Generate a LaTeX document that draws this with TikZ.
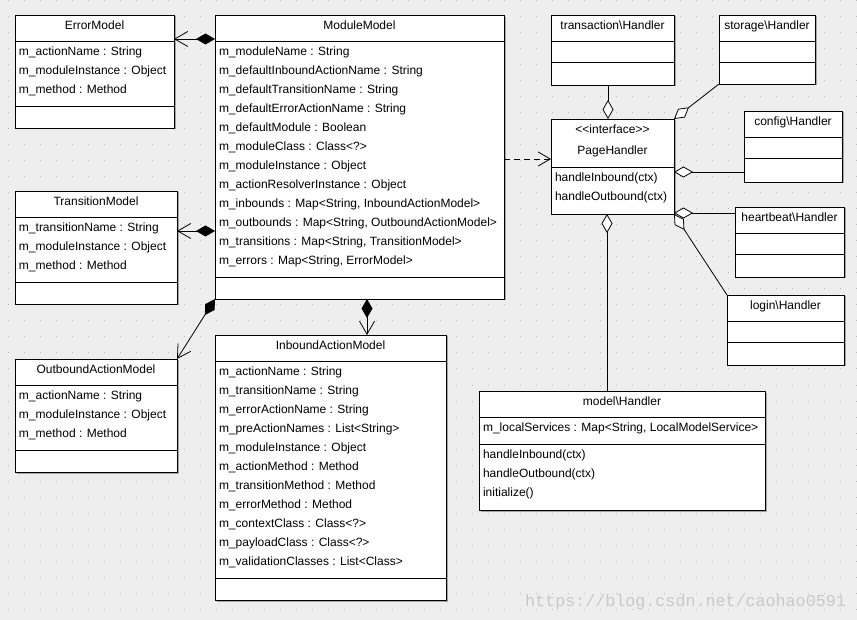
\documentclass[tikz,border=0pt]{standalone}
\usepackage{fontspec}
\setmainfont{Liberation Sans}
\newfontfamily\wmfont{Liberation Mono}
\usetikzlibrary{arrows.meta,shadows}
\definecolor{bgc}{RGB}{238,238,238}
\definecolor{dotc}{RGB}{185,185,185}
\definecolor{wmc}{RGB}{200,200,200}
\tikzset{
  umlbox/.style={draw=black, line width=0.8pt, fill=white, inner sep=0pt, outer sep=0pt,
    anchor=north west, drop shadow={shadow xshift=1.5pt, shadow yshift=-1.5pt, fill=black, opacity=0.3}},
  divline/.style={line width=0.8pt},
  ttl/.style={inner sep=0pt, outer sep=0pt, anchor=base, font=\fontsize{12}{19}\selectfont},
  lst/.style={inner sep=0pt, outer sep=0pt, anchor=base west, font=\fontsize{12}{19}\selectfont},
  comp/.style={line width=0.8pt, {Straight Barb[length=13pt,width=15pt]}-{Diamond[length=19pt,width=11pt,fill=black]}},
  agg/.style={line width=0.8pt, -{Diamond[length=19pt,width=11pt,fill=white]}},
  real/.style={line width=0.8pt, dash pattern=on 6pt off 4pt, -{Straight Barb[length=12pt,width=14pt]}},
}
\newcommand{\umlcls}[5]{\node[umlbox, minimum width=#4pt, minimum height=#5pt] (#1) at (#2,#3) {};}
\newcommand{\cdiv}[2]{\draw[divline] ([yshift=-#2pt]#1.north west) -- ([yshift=-#2pt]#1.north east);}
\newcommand{\rowsof}[1]{\begin{tabular}[t]{@{}l@{}}#1\end{tabular}}
\begin{document}
\begin{tikzpicture}[x=1pt,y=-1pt]
\useasboundingbox (0,0) rectangle (857,620);
\fill[bgc] (0,0) rectangle (857,620);
\foreach \yy in {1,17,...,620} {
  \draw[dotc, line width=1pt, dash pattern=on 1pt off 15pt] (8,\yy) -- (857,\yy);
}

% ---------- ErrorModel
\umlcls{em}{15}{15}{159}{113}
\cdiv{em}{26.7}\cdiv{em}{91.7}
\node[ttl] (em-t) at ([yshift=-14.3pt]em.north) {ErrorModel};
\node[lst] (em-a) at ([xshift=4pt,yshift=-40.8pt]em.north west) {\rowsof{m\_actionName : String\\ m\_moduleInstance : Object\\ m\_method : Method}};

% ---------- TransitionModel
\umlcls{tm}{15}{191}{162}{113}
\cdiv{tm}{26}\cdiv{tm}{91}
\node[ttl] (tm-t) at ([yshift=-14.3pt]tm.north) {TransitionModel};
\node[lst] (tm-a) at ([xshift=4pt,yshift=-40.5pt]tm.north west) {\rowsof{m\_transitionName : String\\ m\_moduleInstance : Object\\ m\_method : Method}};

% ---------- OutboundActionModel
\umlcls{om}{15}{359}{162}{113}
\cdiv{om}{26}\cdiv{om}{91}
\node[ttl] (om-t) at ([yshift=-14.3pt]om.north) {OutboundActionModel};
\node[lst] (om-a) at ([xshift=4pt,yshift=-40.5pt]om.north west) {\rowsof{m\_actionName : String\\ m\_moduleInstance : Object\\ m\_method : Method}};

% ---------- ModuleModel
\umlcls{mm}{215}{15.5}{289}{283.5}
\cdiv{mm}{26.2}\cdiv{mm}{261.5}
\node[ttl] (mm-t) at ([yshift=-14.3pt]mm.north) {ModuleModel};
\node[lst] (mm-a) at ([xshift=4pt,yshift=-40.4pt]mm.north west) {\rowsof{m\_moduleName : String\\
m\_defaultInboundActionName : String\\
m\_defaultTransitionName : String\\
m\_defaultErrorActionName : String\\
m\_defaultModule : Boolean\\
m\_moduleClass : Class<?>\\
m\_moduleInstance : Object\\
m\_actionResolverInstance : Object\\
m\_inbounds : Map<String, InboundActionModel>\\
m\_outbounds : Map<String, OutboundActionModel>\\
m\_transitions : Map<String, TransitionModel>\\
m\_errors : Map<String, ErrorModel>}};

% ---------- InboundActionModel
\umlcls{im}{215}{335}{231}{265}
\cdiv{im}{26}\cdiv{im}{243}
\node[ttl] (im-t) at ([yshift=-14.3pt]im.north) {InboundActionModel};
\node[lst] (im-a) at ([xshift=4pt,yshift=-40.3pt]im.north west) {\rowsof{m\_actionName : String\\
m\_transitionName : String\\
m\_errorActionName : String\\
m\_preActionNames : List<String>\\
m\_moduleInstance : Object\\
m\_actionMethod : Method\\
m\_transitionMethod : Method\\
m\_errorMethod : Method\\
m\_contextClass : Class<?>\\
m\_payloadClass : Class<?>\\
m\_validationClasses : List<Class>}};

% ---------- Handlers
\umlcls{th}{551}{15}{123}{70}
\cdiv{th}{26.7}\cdiv{th}{47.3}
\node[ttl] (th-t) at ([yshift=-14.3pt]th.north) {transaction\textbackslash Handler};

\umlcls{sh}{719}{15}{96}{69}
\cdiv{sh}{26.7}\cdiv{sh}{47.3}
\node[ttl] (sh-t) at ([yshift=-14.3pt]sh.north) {storage\textbackslash Handler};

\umlcls{ch}{744}{111}{98}{71}
\cdiv{ch}{26.3}\cdiv{ch}{47.7}
\node[ttl] (ch-t) at ([yshift=-14.3pt]ch.north) {config\textbackslash Handler};

\umlcls{hh}{735}{207}{109}{70}
\cdiv{hh}{26.3}\cdiv{hh}{47.7}
\node[ttl] (hh-t) at ([yshift=-14.3pt]hh.north) {heartbeat\textbackslash Handler};

\umlcls{lh}{727}{295}{117}{70}
\cdiv{lh}{26.3}\cdiv{lh}{47.7}
\node[ttl] (lh-t) at ([yshift=-14.3pt]lh.north) {login\textbackslash Handler};

% ---------- PageHandler
\umlcls{ph}{551}{119}{123}{95}
\cdiv{ph}{48}
\node[ttl] (ph-s) at ([yshift=-14.3pt]ph.north) {<\kern0pt<interface>\kern0pt>};
\node[ttl] (ph-t) at ([yshift=-35.8pt]ph.north) {PageHandler};
\node[lst] (ph-m) at ([xshift=4pt,yshift=-62.3pt]ph.north west) {\rowsof{handleInbound(ctx)\\ handleOutbound(ctx)}};

% ---------- model\Handler
\umlcls{mh}{479}{391}{286}{119}
\cdiv{mh}{26.3}\cdiv{mh}{53.3}
\node[ttl] (mh-t) at ([yshift=-14pt]mh.north) {model\textbackslash Handler};
\node[lst] (mh-a) at ([xshift=4pt,yshift=-40.5pt]mh.north west) {m\_localServices : Map<String, LocalModelService>};
\node[lst] (mh-m) at ([xshift=4pt,yshift=-67.6pt]mh.north west) {\rowsof{handleInbound(ctx)\\ handleOutbound(ctx)\\ initialize()}};

% ---------- connectors
\coordinate (c1) at ([yshift=-24pt]em.north east);
\draw[comp] (c1) -- (c1 -| mm.west);
\coordinate (c2) at ([yshift=-40pt]tm.north east);
\draw[comp] (c2) -- (c2 -| mm.west);
\draw[comp] (om.north east) -- (mm.south west);
\coordinate (c4) at ([xshift=152pt]im.north west);
\draw[comp] (c4) -- (c4 |- mm.south);

\coordinate (c5) at ([yshift=-40pt]ph.north west);
\draw[real] (c5 -| mm.east) -- (c5);

\coordinate (c6) at ([xshift=57pt]th.south west);
\draw[agg] (c6) -- (c6 |- ph.north);
\draw[agg] (sh.south west) -- (ph.north east);
\coordinate (c7) at ([yshift=10pt]ch.south west);
\draw[agg] (c7) -- (c7 -| ph.east);
\coordinate (c8) at ([yshift=-6pt]hh.north west);
\draw[agg] (c8) -- (c8 -| ph.east);
\draw[agg] (lh.north west) -- (ph.south east);
\coordinate (c9) at ([xshift=128pt]mh.north west);
\draw[agg] (c9) -- (c9 |- ph.south);

% ---------- watermark
\node[anchor=base west, inner sep=0pt, text=wmc, font=\wmfont\fontsize{16.7}{20}\selectfont] (wm) at (525,606) {https://blog.csdn.net/caohao0591};
\end{tikzpicture}
\end{document}
